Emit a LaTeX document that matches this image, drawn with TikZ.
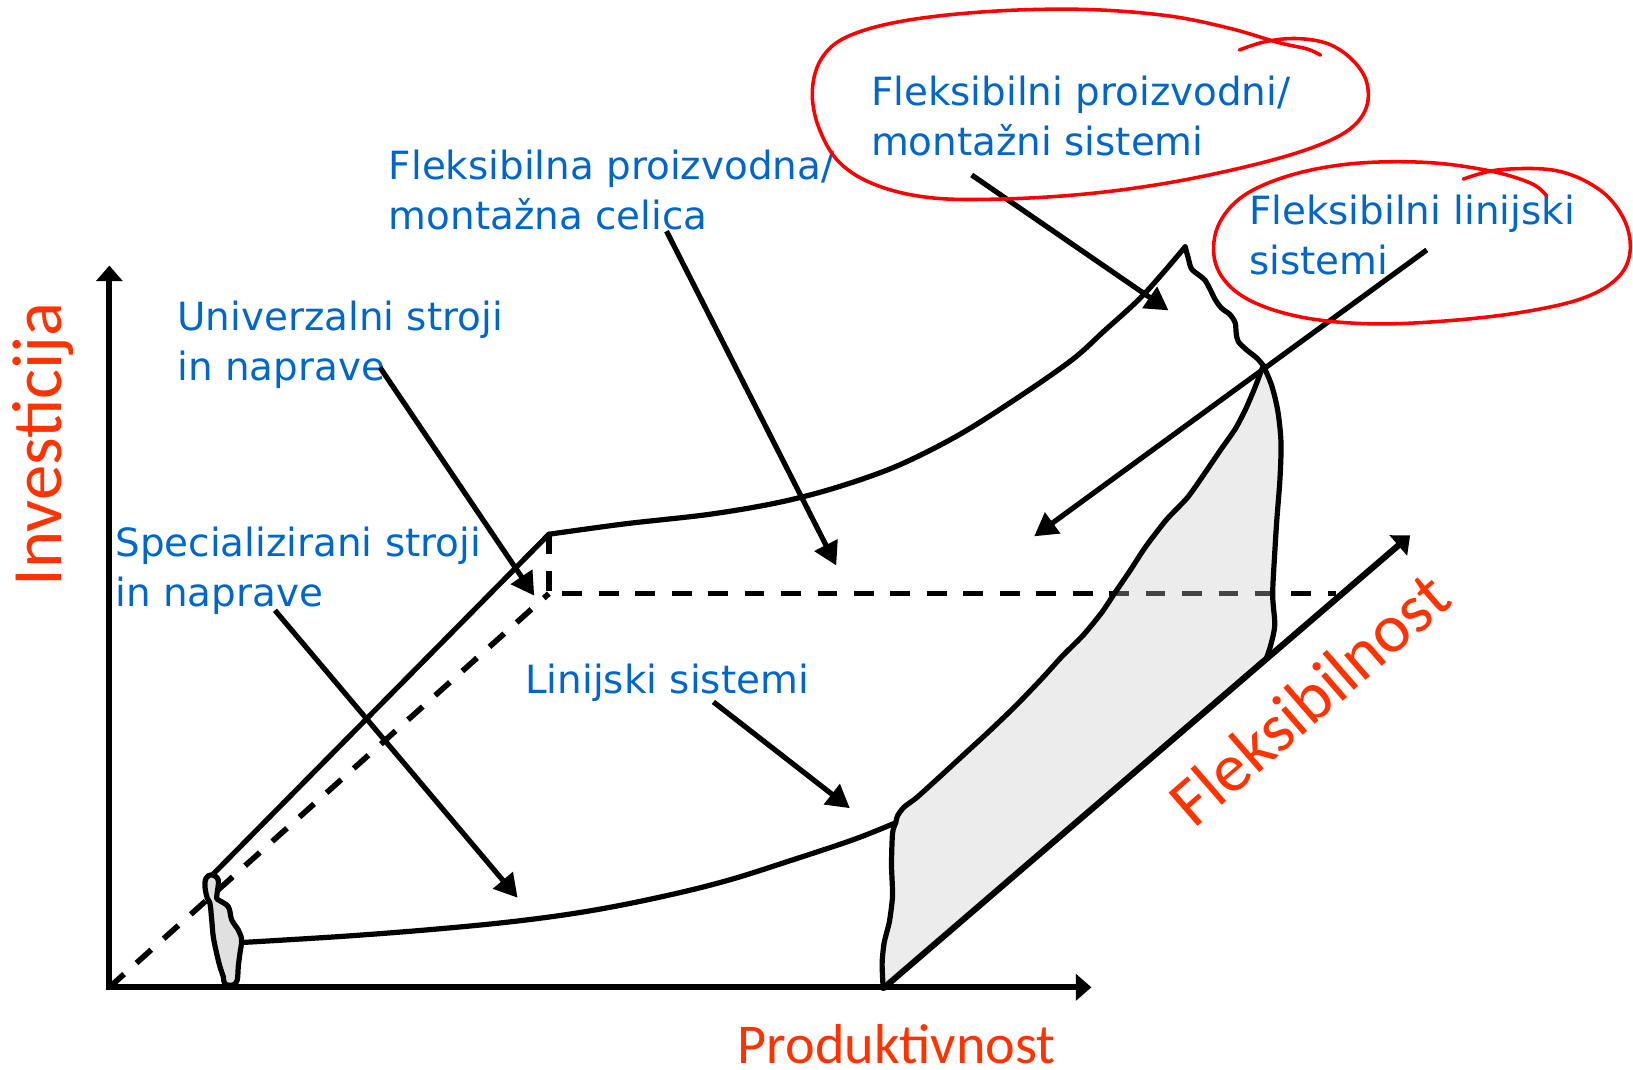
\documentclass[tikz,border=0pt]{standalone}
\usepackage{fontspec}
\usetikzlibrary{arrows.meta}
\newfontfamily\labelfont{DejaVu Sans}
\newfontfamily\axisfont{Carlito}
\definecolor{lblblue}{RGB}{0,102,204}
\definecolor{axred}{RGB}{255,51,0}
\definecolor{ringred}{RGB}{255,0,0}
\definecolor{regiongray}{gray}{0.79}
\definecolor{blobgray}{gray}{0.88}

\begin{document}
\begin{tikzpicture}[x=0.5pt,y=-0.5pt,
  axis/.style={line width=3pt},
  curve/.style={line width=2.5pt, line join=round, line cap=round},
  guide/.style={line width=2.7pt, dash pattern=on 9.5pt off 8pt},
  pointer/.style={line width=2.5pt,-{Triangle[length=11pt,width=12pt]}},
  lbl/.style={text=lblblue, font=\labelfont\fontsize{18.65}{24.3}\selectfont,
    align=left, inner sep=0pt, anchor=base west},
  axlbl/.style={text=axred, inner sep=0pt, anchor=base},
  ring/.style={draw=ringred, line width=1.7pt, line cap=round, line join=round}
]
\useasboundingbox[fill=white] (0,0) rectangle (1568,1027);

% key points of the chart
\coordinate (O) at (105,948);
\coordinate (Ytip) at (105,255);
\coordinate (Xtip) at (1048,948);
\coordinate (F0) at (848,949);
\coordinate (Ftip) at (1354,514);
\coordinate (C) at (527,570);
\coordinate (A) at (527,513);
\coordinate (Dend) at (1283,570);
\coordinate (T) at (205,839);
\coordinate (P) at (1138,237);
\coordinate (Q) at (1213,351);
\coordinate (L) at (860,790);
\coordinate (R) at (1216,632);
\coordinate (B) at (232,905);

% dashed guide lines
\draw[guide] (O) -- (C);
\draw[guide] (A) -- (C) -- (Dend);

% axes
\draw[axis, {Triangle[length=7.5pt,width=12.5pt]}-{Triangle[length=7.5pt,width=12.5pt]}]
  (Ytip) -- (O) -- (Xtip);
\draw[axis, -{Triangle[length=7.5pt,width=12.5pt]}] (F0) -- (Ftip);

% upper envelope
\draw[curve] (T) -- (A);
\draw[curve] plot[smooth, tension=0.55] coordinates {(527,513) (600,503) (680,494)
  (745,483) (800,469) (860,448) (920,418) (980,380) (1030,345) (1060,318)
  (1098,283) (1138,237)};
\draw[curve] plot[smooth, tension=0.5] coordinates {(1138,237) (1141,248) (1144,258)
  (1151,264) (1157,269) (1162,278) (1167,288) (1173,296) (1181,302) (1186,310)
  (1187,320) (1189,328) (1197,336) (1207,344) (1213,351)};

% lower envelope
\draw[curve] plot[smooth, tension=0.6] coordinates {(232,905) (330,899) (420,892)
  (500,884) (570,874) (640,860) (700,845) (760,826) (820,806) (860,790)};

% flexible line systems region
\fill[regiongray, fill opacity=0.34]
  (860,790) -- (857,800) -- (856,830) -- (857,860) -- (854,885) -- (849,905)
  -- (847,925) -- (F0) -- (R) -- (1220,620) -- (1224,600) -- (1222,571)
  -- (1224,531) -- (1226,499) -- (1229,460) -- (1230,425) -- (1227,395)
  -- (1221,370) -- (Q) -- (1205,372) -- (1196,393) -- (1186,412) -- (1172,432)
  -- (1155,457) -- (1140,478) -- (1120,499) -- (1100,525) -- (1085,548)
  -- (1070,570) -- (1058,588) -- (1040,610) -- (1020,630) -- (1000,652)
  -- (975,678) -- (950,702) -- (925,725) -- (900,748) -- (880,766)
  -- (868,775) -- (862,783) -- cycle;
\draw[curve] plot[smooth, tension=0.4] coordinates {(860,790) (857,800) (856,830)
  (857,860) (854,885) (849,905) (847,925) (848,949)};
\draw[curve] (F0) -- (R);
\draw[curve] plot[smooth, tension=0.5] coordinates {(1216,632) (1220,620) (1224,600)
  (1222,571) (1224,531) (1226,499) (1229,460) (1230,425) (1227,395) (1221,370)
  (1213,351)};
\draw[curve] plot[smooth, tension=0.4] coordinates {(1213,351) (1205,372) (1196,393)
  (1186,412) (1172,432) (1155,457) (1140,478) (1120,499) (1100,525) (1085,548)
  (1070,570) (1058,588) (1040,610) (1020,630) (1000,652) (975,678) (950,702)
  (925,725) (900,748) (880,766) (868,775) (862,783) (860,790)};

% special-purpose machine outline
\filldraw[fill=blobgray, curve] plot[smooth cycle, tension=0.6] coordinates {
  (203,840) (209.6,845) (208.1,861) (209.6,864) (219.2,870.6) (222.5,883.3)
  (228.8,893) (232,902.5) (230.4,915.3) (228.8,928.2) (227.8,941) (224,945.7)
  (216,944.8) (214.4,937.8) (211.2,928.2) (208,915.3) (204.8,899.4)
  (203.3,883.3) (201.6,867.3) (199,862.5) (196.8,851.4) (197.8,843.3)};

% labels (two-line labels are placed by the baseline of their last line)
\node[lbl] (fps) at (836,149.6) {Fleksibilni proizvodni/\\montažni sistemi};
\node[lbl] (fpc) at (373,220.8) {Fleksibilna proizvodna/\\montažna celica};
\node[lbl] (fls) at (1199,264) {Fleksibilni linijski\\sistemi};
\node[lbl] (usn) at (170,365.5) {Univerzalni stroji\\in naprave};
\node[lbl] (ssn) at (110.5,582.5) {Specializirani stroji\\in naprave};
\node[lbl] (lsy) at (504,665.7) {Linijski sistemi};

\node[axlbl, font=\axisfont\fontsize{34}{40}\selectfont, rotate=90] (inv) at (59,426.5) {Investicija};
\node[axlbl, font=\axisfont\fontsize{27}{32}\selectfont] (prod) at (861,1021.5) {Produktivnost};
\node[axlbl, font=\axisfont\fontsize{33}{40}\selectfont, rotate=41] (flex) at (1272,688) {Fleksibilnost};

% pointers from labels
\coordinate (a1s) at (365,353);  \coordinate (a1t) at (513,572);
\coordinate (a2s) at (264,586);  \coordinate (a2t) at (497,862);
\coordinate (a3s) at (640,222);  \coordinate (a3t) at (803,543);
\coordinate (a4s) at (685,674);  \coordinate (a4t) at (816,776);
\coordinate (a5s) at (933,168);  \coordinate (a5t) at (1122,298);
\coordinate (a6s) at (1370,240); \coordinate (a6t) at (993,515);
\draw[pointer] (a1s) -- (a1t);
\draw[pointer] (a2s) -- (a2t);
\draw[pointer] (a3s) -- (a3t);
\draw[pointer] (a4s) -- (a4t);
\draw[pointer] (a5s) -- (a5t);
\draw[pointer] (a6s) -- (a6t);

% hand-drawn highlight rings
\draw[ring] plot[smooth, tension=0.6] coordinates {(1190,48) (1215,40) (1245,37)
  (1275,42) (1298,57) (1312,78) (1312,103) (1296,124) (1262,141) (1205,158)
  (1125,175) (1045,186) (965,191) (895,190) (842,178) (806,156) (786,122)
  (780,87) (789,56) (814,35) (868,20) (950,11) (1040,9) (1120,15) (1180,27)
  (1228,41) (1255,47) (1268,53)};
\draw[ring] plot[smooth, tension=0.6] coordinates {(1405,172) (1440,163) (1495,164)
  (1537,183) (1560,212) (1565,243) (1552,268) (1518,287) (1460,300) (1390,308)
  (1320,311) (1258,306) (1210,293) (1180,274) (1166,248) (1170,216) (1194,188)
  (1240,168) (1300,157) (1370,156) (1430,164) (1470,176) (1485,188)};
\end{tikzpicture}
\end{document}
